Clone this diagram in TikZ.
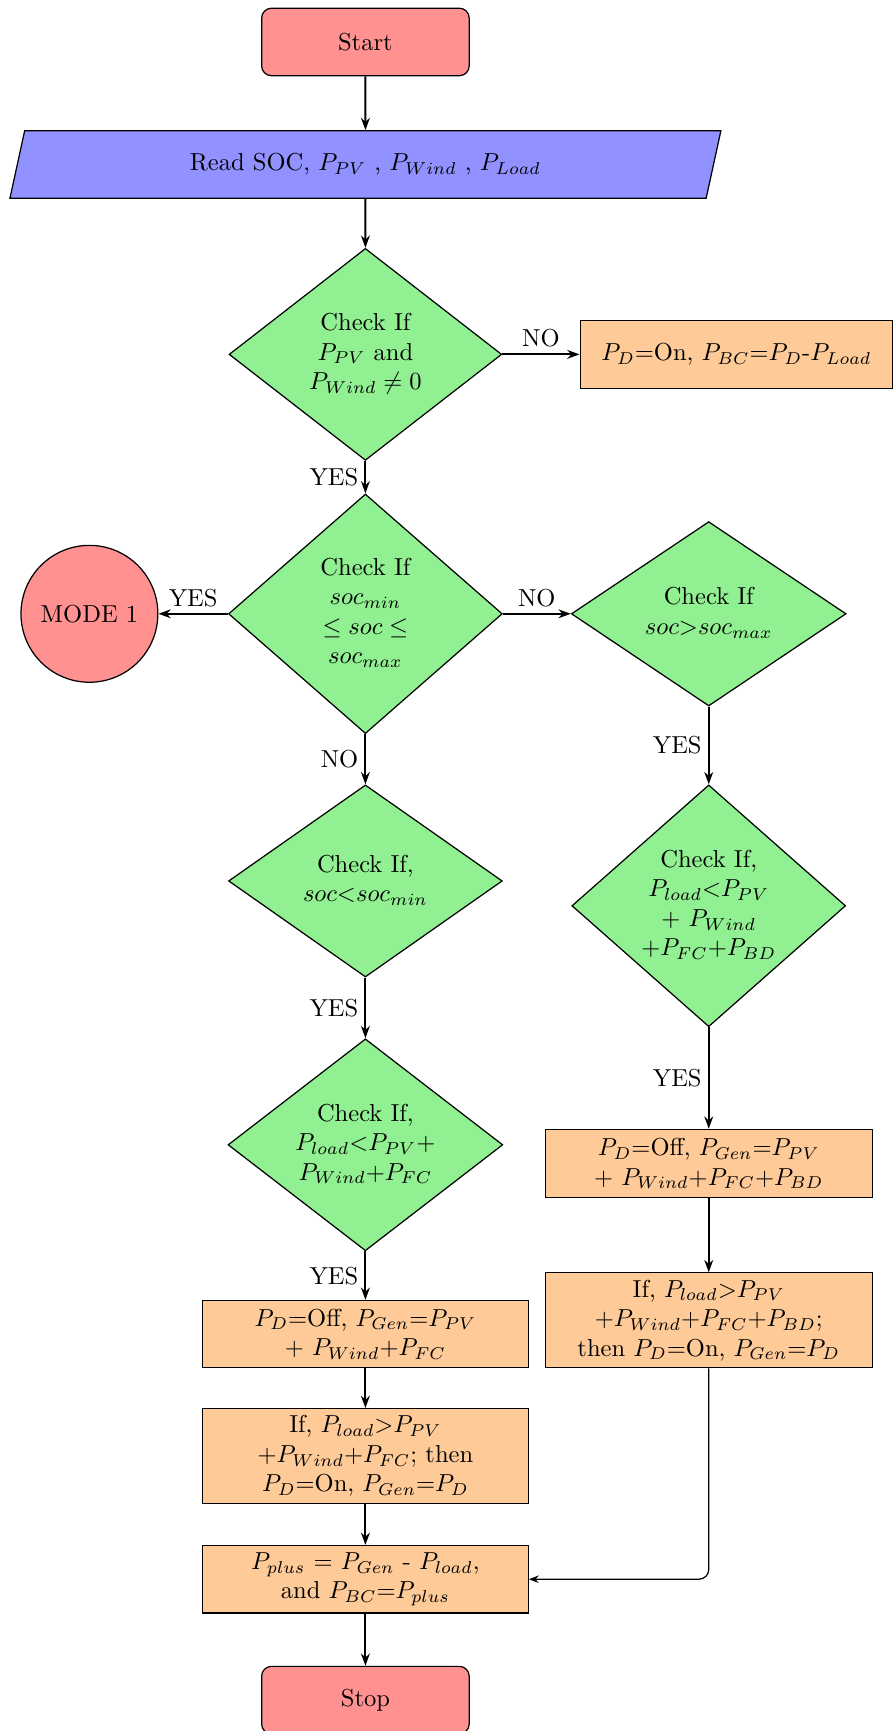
\documentclass[tikz,border=0pt]{standalone}
\usetikzlibrary{shapes.geometric,arrows.meta}

\definecolor{termfill}{RGB}{255,145,145}
\definecolor{iofill}{RGB}{145,145,255}
\definecolor{decfill}{RGB}{145,240,145}
\definecolor{procfill}{RGB}{253,202,152}

% text of a decision node, centred and taking no room of its own,
% so that the diamond keeps the size it is given
\newcommand{\dtext}[1]{\smash{\makebox[0pt]{\raisebox{-2.5pt}{\begin{tabular}{@{}c@{}}#1\end{tabular}}}}}

\begin{document}
\begin{tikzpicture}[x=0.45pt, y=-0.45pt,
  term/.style={rectangle, rounded corners=4pt, draw, line width=0.5pt, fill=termfill,
    minimum width=84.6pt, minimum height=27.5pt},
  io/.style={trapezium, trapezium left angle=69, trapezium right angle=111,
    trapezium stretches body, draw, line width=0.5pt, fill=iofill,
    minimum width=289.8pt, minimum height=27.5pt},
  decision/.style={diamond, draw, line width=0.5pt, fill=decfill, inner sep=0pt},
  proc/.style={rectangle, draw, line width=0.5pt, fill=procfill, align=center, inner sep=1pt},
  flow/.style={thick, -{Stealth[length=5pt, width=3.6pt]}},
  thinflow/.style={line width=0.5pt, rounded corners=4pt, -{Stealth[length=4pt, width=3pt]}},
  lbl/.style={inner sep=2.5pt}]

\useasboundingbox (0,0) rectangle (810,1568);

% main column
\node[term] (start) at (331,38) {Start};
\node[io] (read) at (331,149) {Read SOC, $P_{PV}$ , $P_{Wind}$ , $P_{Load}$};
\node[decision, minimum width=111.15pt, minimum height=86.4pt] (d1) at (331,321)
  {\dtext{Check If\\ $P_{PV}$ and\\ $P_{Wind}\neq 0$}};
\node[proc, minimum width=127.35pt, minimum height=27.9pt] (pd) at (667,321)
  {$P_D$=On, $P_{BC}$=$P_D$-$P_{Load}$};
\node[decision, minimum width=111.6pt, minimum height=97.65pt] (d2) at (331,556)
  {\dtext{Check If\\ $soc_{min}$\\ $\leq soc \leq$\\ $soc_{max}$}};
\node[circle, draw, line width=0.5pt, fill=termfill, minimum size=55.8pt, inner sep=0pt]
  (mode1) at (81,556) {MODE 1};
\node[decision, minimum width=112pt, minimum height=75.15pt] (d3) at (642,556)
  {\dtext{Check If\\ $soc{>}soc_{max}$}};

% left branch
\node[decision, minimum width=111.6pt, minimum height=78.3pt] (d4) at (331,798)
  {\dtext{Check If,\\ $soc{<}soc_{min}$}};
\node[decision, minimum width=112pt, minimum height=86.4pt] (d6) at (331,1037)
  {\dtext{Check If,\\ $P_{load}$<$P_{PV}$+\\ $P_{Wind}$+$P_{FC}$}};
\node[proc, minimum width=132.75pt, minimum height=27.45pt] (l1) at (331,1208.5)
  {$P_D$=Off, $P_{Gen}$=$P_{PV}$\\ + $P_{Wind}$+$P_{FC}$};
\node[proc, minimum width=132.75pt, minimum height=38.7pt] (l2) at (331,1319)
  {If, $P_{load}$>$P_{PV}$\\ +$P_{Wind}$+$P_{FC}$; then\\ $P_D$=On, $P_{Gen}$=$P_D$};
\node[proc, minimum width=132.75pt, minimum height=27.45pt] (l3) at (331,1430.5)
  {$P_{plus}$ = $P_{Gen}$ - $P_{load}$,\\ and $P_{BC}$=$P_{plus}$};
\node[term] (stop) at (331,1540) {Stop};

% right branch
\node[decision, minimum width=111.6pt, minimum height=98.55pt] (d5) at (642,820.5)
  {\dtext{Check If,\\ $P_{load}$<$P_{PV}$\\ + $P_{Wind}$\\ +$P_{FC}$+$P_{BD}$}};
\node[proc, minimum width=133.2pt, minimum height=27.9pt] (r1) at (642,1054)
  {$P_D$=Off, $P_{Gen}$=$P_{PV}$\\ + $P_{Wind}$+$P_{FC}$+$P_{BD}$};
\node[proc, minimum width=133.2pt, minimum height=38.7pt] (r2) at (642,1196)
  {If, $P_{load}$>$P_{PV}$\\ +$P_{Wind}$+$P_{FC}$+$P_{BD}$;\\ then $P_D$=On, $P_{Gen}$=$P_D$};

% connectors
\draw[flow] (start) -- (read);
\draw[flow] (read) -- (d1);
\draw[flow] (d1) -- node[lbl, above] (n1) {NO} (pd);
\draw[flow] (d1) -- node[lbl, left] (y1) {YES} (d2);
\draw[flow] (d2) -- node[lbl, above] (y2) {YES} (mode1);
\draw[flow] (d2) -- node[lbl, above] (n2) {NO} (d3);
\draw[flow] (d2) -- node[lbl, left] (n3) {NO} (d4);
\draw[flow] (d3) -- node[lbl, left] (y3) {YES} (d5);
\draw[flow] (d4) -- node[lbl, left] (y4) {YES} (d6);
\draw[flow] (d5) -- node[lbl, left] (y5) {YES} (r1);
\draw[flow] (d6) -- node[lbl, left] (y6) {YES} (l1);
\draw[flow] (r1) -- (r2);
\draw[flow] (l1) -- (l2);
\draw[flow] (l2) -- (l3);
\draw[thinflow] (r2.south) |- (l3.east);
\draw[flow] (l3) -- (stop);
\end{tikzpicture}
\end{document}
